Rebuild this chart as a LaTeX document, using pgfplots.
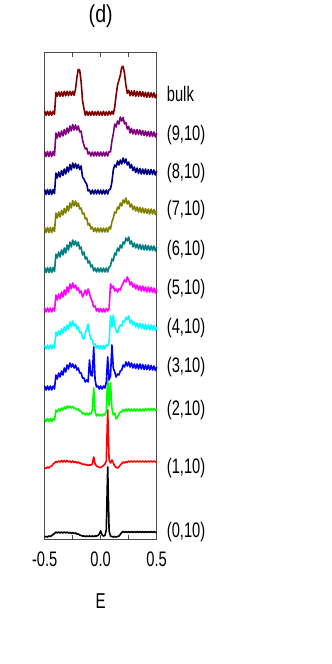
\documentclass[border=0pt]{standalone}
\usepackage{fontspec}
\setmainfont{Liberation Sans}[FakeStretch=0.7]
\newfontfamily\titlefont{Liberation Sans}[FakeStretch=0.8]
\usepackage{pgfplots}
\usepackage{pgfplotstable}
\pgfplotsset{compat=1.18}

\definecolor{cB}{RGB}{128,0,0}
\definecolor{cP}{RGB}{128,0,128}
\definecolor{cN}{RGB}{0,0,128}
\definecolor{cO}{RGB}{128,128,0}
\definecolor{cT}{RGB}{0,128,128}
\definecolor{cM}{RGB}{255,0,255}
\definecolor{cC}{RGB}{0,255,255}
\definecolor{cBl}{RGB}{0,0,255}
\definecolor{cG}{RGB}{0,255,0}
\definecolor{cR}{RGB}{255,0,0}

\tikzset{lbl/.style={anchor=west, xshift=10pt, inner sep=0pt, font=\fontsize{21}{24}\selectfont}}

% local DOS of each layer, height above its own baseline
% K=(0,10) R=(1,10) G=(2,10) Bl=(3,10) C=(4,10) M=(5,10) T=(6,10) O=(7,10) N=(8,10) P=(9,10) B=bulk
\pgfplotstableread{
E       K    R    G    Bl   C    M    T    O    N    P    B
-0.5    0    0.5  1.5  2    2    2    2.5  2.5  2.5  2.5  2
-0.4875 0.5  -0.5 -1.5 -2   -2   -2   -2.5 -2.5 -2.5 -2.5 -2
-0.475  0    1    1.5  2    2    2    2.5  2.5  2.5  2.5  2
-0.4625 1    0    -1.5 -2   -2   -2   -2.5 -2.5 -2.5 -2.5 -2
-0.45   0.5  1.5  1.5  2    2    2    2.5  2.5  2.5  2.5  2
-0.4375 1.5  2    -1.5 -2   -2   -2   -2.5 -2.5 -2.5 -2.5 -2
-0.425  2.5  4    1.5  2    2    2    2.5  2.5  2.5  2.5  2
-0.4125 3.5  5    0    -1   -1   -1   -1.5 -1.5 -1.5 -1.5 -1
-0.4    5    6.5  10   13   15   15   16   17   19   21   21
-0.3875 4    5.5  8    9    11   10   12   12   14   16   17
-0.375  5    7    11   15   16   16   18   18   20   22   21.5
-0.3625 4    6    9    11   12   11   13   13   15   17   17
-0.35   5    7.5  12   17   18   18   20   19.5 21.5 23   21.5
-0.3375 4    6    10   13   14   13   15   15   16.5 18   17
-0.325  5    7.5  13   20   20   20   22   21.5 23   24.5 22
-0.3125 4    6    11   16   16   15   17   17   18   19.5 17.5
-0.3    5    7.5  14   23   22   23   25   24   25   26   22
-0.2875 4    6    12   19   18   18   20   19   20   21   17.5
-0.275  4.5  7    14   25   25   26   28   27   27.5 28   22
-0.2625 3.5  5.5  12   21   20   21   23   22   22   23   18
-0.25   4.5  7    13.5 24   26   27   30   29.5 29   29.5 22
-0.2375 3.5  5.5  11.5 20   21   22   25   24   24   24   18
-0.225  4    6.5  12   23   23   25   29   29   28.5 29   24
-0.2125 3    5    10   18   18   20   24   23.5 23.5 24   36
-0.2    3    6    11   20   20   22   28   27   27.5 28   44
-0.1875 2    4.5  8.5  15   14   17   21   21   22.5 22   43
-0.175  1.5  5    9    15   15   19   23   22   26   23   32
-0.1625 1    3.5  6    10   9    13   15   16   15   14   13
-0.15   1    4    7    10   8    16   18   17   13   9    5
-0.1375 0.5  3    5    6    14   20   11   11   10   5    -2
-0.125  1    3.5  7    8    18   15   13   12   8    6    2
-0.1125 0.5  2.5  5    6    23   21   7    5    1    0    -2
-0.1    1    3    7    28   13   16   9    6.5  2    2    1.5
-0.0875 0.5  3    6    13   8    12   3    1    -2   -2   -2
-0.075  1    4    10   12   7    8    5    3    2    2    2
-0.0625 0.5  11   32   41   2    3    -1   -1.5 -2   -2   -2
-0.05   1    4    8    8    3    4    2    2    2    2    1.5
-0.0375 1    2    4    1    -1   -1   -2   -2   -2   -2   -2
-0.025  1.5  1.5  6    2    1.5  1.5  2    2    2    2    2
-0.0125 3    0.5  4    -1   -2   -2   -2   -2   -2   -2   -2
0       6    0.5  5.5  2    1.5  1.5  2    2    2    2    1.5
0.0125  2    1.5  4    -1   -2   -2   -2   -2   -2   -2   -2
0.025   1    2.5  6    2    1.5  1.5  2    2    2    2    2
0.0375  1.5  4    5    0    -1.5 -2   -2   -2   -2   -2   -2
0.05    7    7    9    6    2    1.5  2    2    2    2    1.5
0.0625  70   58   42   31   1    -1   -2   -2   -2   -2   -2
0.075   6    8    14   8    5    2    3    3    2.5  2.5  2
0.0875  1    5    37   12   31   26   4    1    3    2    -1.5
0.1     0.5  8    12   43   20   22   11   8    10   13   2
0.1125  0    5    5    20   32   24   9    12   22   20   -1
0.125   0.5  2    7    16   22   19   17   18   27   30   6
0.1375  0    0.5  1    11   16   21   15   17   25   27   18
0.15    0.5  0    3    14   14   18   22   23   31   33   28
0.1625  1    1    6    13   19   21   19   21   27   30   33
0.175   2.5  3    8    17   22   20   25   27   32   37   38
0.1875  4.5  4.5  8    18   21   24   22   24   28   33   46
0.2     5.5  6    10.5 23   26   27   28   30   34   36.5 47
0.2125  4.5  5    8.5  21   25   30   26   27   29   30   40
0.225   5.5  6.5  11   26   30   28   32   32   33   31.5 28
0.2375  4.5  5.5  9    22   27   33   29   26   27   25   20
0.25    5.5  7    11   26   31   30   33   29   30   27.5 23
0.2625  4.5  6    9    21   24   25   26   23   24   21   17.5
0.275   5.5  7    11   25   27   28   29   26   27.5 25.5 22.5
0.2875  4.5  6    9    20   22   23   23   20.5 21.5 20   17.5
0.3     5.5  7    11   24   25   26   27   24   25   24.5 22.5
0.3125  4.5  6    9    19.5 20   21   22   19   19.5 19.5 17
0.325   5.5  7    11   24   24   25   26   23   24   24.5 22
0.3375  4.5  6    9    19   19   20   21   18   18.5 19.5 17
0.35    5.5  7    11   24   23.5 24   25.5 22.5 23.5 24   22
0.3625  4.5  6    9    19   18.5 19   20.5 17.5 18   19   17
0.375   5.5  7    11   23.5 23   24   25   22   23   23.5 21.5
0.3875  4.5  6    9    18.5 18   19   20   17   18   18.5 16.5
0.4     5.5  7    11.5 23   22.5 23   25   21.5 23   23   21
0.4125  4.5  6    9.5  18.5 17.5 18   20   16.5 17.5 18   16
0.425   5.5  7    11.5 23   22   23   24.5 21   22.5 22.5 21
0.4375  4.5  6    9.5  18   17   18   19.5 16   17.5 17.5 16
0.45    5.5  7    11.5 22.5 22   22.5 24   21   22.5 22.5 20.5
0.4625  4.5  6    9.5  18   17   17.5 19.5 16   17.5 17.5 16
0.475   5.5  7    11.5 22   21.5 22   24   20.5 22   22   20.5
0.4875  4.5  6    9.5  17.5 16.5 17   19   15.5 17   17   15.5
0.5     5    6.5  11   21   20   21   23   19   21   21   19
}\ldos

\begin{document}
\begin{tikzpicture}[x=1pt,y=1pt]
\path[use as bounding box] (0,0) rectangle (332,664);
\begin{axis}[
    at={(44.7pt,125pt)}, anchor=south west,
    scale only axis, width=112pt, height=486pt,
    xmin=-0.5, xmax=0.5, ymin=125, ymax=611,
    xtick={-0.5,0,0.5}, xticklabels={-0.5,0.0,0.5},
    minor xtick={-0.25,0.25},
    ytick=\empty,
    tick align=inside, xtick pos=both, xticklabel pos=lower,
    major tick length=4.5pt, minor tick length=4.5pt,
    every tick/.style={black!70, line width=1pt},
    axis line style={black!70, line width=1pt},
    xticklabel style={font=\fontsize{21}{24}\selectfont, inner sep=0pt, yshift=-12.5pt},
    xlabel={E},
    xlabel style={font=\fontsize{21.5}{24}\selectfont, at={(axis description cs:0.5,0)},
                  anchor=base, yshift=-69.5pt, inner sep=0pt},
    title={\titlefont (d)},
    title style={font=\fontsize{24.5}{27}\selectfont, at={(axis description cs:0.5,1)},
                 anchor=base, yshift=24pt, inner sep=0pt},
    clip=false,
    no markers,
    every axis plot/.append style={line width=1.6pt, line join=round},
]
\addplot[draw=black] table[x=E, y expr=\thisrow{K}+127] {\ldos};
\addplot[draw=cR]    table[x=E, y expr=\thisrow{R}+196] {\ldos};
\addplot[draw=cG]    table[x=E, y expr=\thisrow{G}+244] {\ldos};
\addplot[draw=cBl]   table[x=E, y expr=\thisrow{Bl}+276] {\ldos};
\addplot[draw=cC]    table[x=E, y expr=\thisrow{C}+317] {\ldos};
\addplot[draw=cM]    table[x=E, y expr=\thisrow{M}+354] {\ldos};
\addplot[draw=cT]    table[x=E, y expr=\thisrow{T}+394] {\ldos};
\addplot[draw=cO]    table[x=E, y expr=\thisrow{O}+434] {\ldos};
\addplot[draw=cN]    table[x=E, y expr=\thisrow{N}+472] {\ldos};
\addplot[draw=cP]    table[x=E, y expr=\thisrow{P}+510] {\ldos};
\addplot[draw=cB]    table[x=E, y expr=\thisrow{B}+550.7] {\ldos};

\node[lbl] at (axis cs:0.5,569.7) {bulk};
\node[lbl] at (axis cs:0.5,529) {(9,10)};
\node[lbl] at (axis cs:0.5,491) {(8,10)};
\node[lbl] at (axis cs:0.5,454) {(7,10)};
\node[lbl] at (axis cs:0.5,414) {(6,10)};
\node[lbl] at (axis cs:0.5,375) {(5,10)};
\node[lbl] at (axis cs:0.5,336) {(4,10)};
\node[lbl] at (axis cs:0.5,297) {(3,10)};
\node[lbl] at (axis cs:0.5,254) {(2,10)};
\node[lbl] at (axis cs:0.5,196) {(1,10)};
\node[lbl] at (axis cs:0.5,132) {(0,10)};
\end{axis}
\end{tikzpicture}
\end{document}
